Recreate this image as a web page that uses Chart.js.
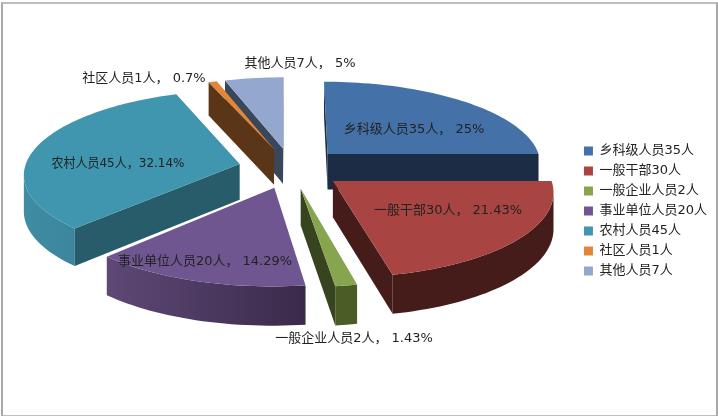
<!DOCTYPE html>
<html>
<head>
<meta charset="utf-8">
<style>
  html, body { margin: 0; padding: 0; background: #fff; }
  #wrap { position: relative; width: 718px; height: 416px; overflow: hidden; }
  #frame { position: absolute; left: 1px; top: 2px; width: 713px; height: 411px; border: 2px solid #a8a8a8; border-top-color: #bdbdbd; border-bottom-color: #bdbdbd; }
  canvas { position: absolute; left: 0; top: 0; }
</style>
<script src="https://cdn.jsdelivr.net/npm/chart.js@4"></script>
</head>
<body>
<div id="wrap">
  <div id="frame"></div>
  <canvas id="pie" width="718" height="416"></canvas>
</div>
<script>
const categories = ["乡科级人员35人", "一般干部30人", "一般企业人员2人", "事业单位人员20人", "农村人员45人", "社区人员1人", "其他人员7人"];
const values = [35, 30, 2, 20, 45, 1, 7];
const percents = ["25%", "21.43%", "1.43%", "14.29%", "32.14%", "0.7%", "5%"];
const separators = ["， ", "， ", "， ", "， ", "，", "， ", "， "];

const topColors = ["#4472a8", "#a84442", "#87a44e", "#6f5690", "#3f96ae", "#e0873a", "#94a8cf"];
const wallColors = ["#1b2c44", "#451c1a", "#37441f", "#3b2a4a", "#285c6b", "#5a3517", "#3a475a"];
const arcLeft = ["#1b2c44", "#451c1a", "#4b5d27", "#5e4876", "#3f8ca3", "#5a3517", "#3a475a"];
const arcRight = ["#1b2c44", "#451c1a", "#4b5d27", "#3a2a4a", "#2f7285", "#5a3517", "#3a475a"];

// where the data labels sit, centre of the text, and how wide they may get
const labelSpots = [[414, 130], [448, 211], [354, 339], [205, 262], [118, 164], [144, 79], [300, 64]];
const labelWidths = [142, 149, 163, 177, 133, 126, 114];

const view = { cx: 291, cy: 168, rx: 215, ry: 83, depth: 36, explode: 0.245, persp: 0.11 };

// flat pie coordinates (radius 1) to the tilted picture
function project(x, y) {
  const k = 1 / (1 - view.persp * y);
  return { x: view.cx + view.rx * x * k, y: view.cy + view.ry * y * k, d: view.depth * Math.pow(k, 0.6) };
}

function sliceOutline(arc) {
  const mid = (arc.startAngle + arc.endAngle) / 2;
  const ox = Math.cos(mid) * view.explode, oy = Math.sin(mid) * view.explode;
  const pts = [project(ox, oy)];
  const steps = Math.max(2, Math.ceil((arc.endAngle - arc.startAngle) / 0.03));
  for (let s = 0; s <= steps; s++) {
    const a = arc.startAngle + (arc.endAngle - arc.startAngle) * s / steps;
    pts.push(project(ox + Math.cos(a), oy + Math.sin(a)));
  }
  return { pts: pts, oy: oy };
}

function fillWall(ctx, run, style) {
  ctx.fillStyle = style;
  ctx.beginPath();
  run.forEach((p, idx) => idx ? ctx.lineTo(p.x, p.y) : ctx.moveTo(p.x, p.y));
  run.slice().reverse().forEach(p => ctx.lineTo(p.x, p.y + p.d));
  ctx.closePath();
  ctx.fill();
}

const tiltedPie = {
  id: "tiltedPie",
  beforeDatasetDraw(chart) {
    const ctx = chart.ctx;
    const meta = chart.getDatasetMeta(0);
    const slices = meta.data.map((arc, i) => Object.assign(sliceOutline(arc), { i: i }));
    slices.sort((a, b) => a.oy - b.oy);

    slices.forEach(sl => {
      const pts = sl.pts, n = pts.length;
      const xs = pts.map(p => p.x);
      const grad = ctx.createLinearGradient(Math.min(...xs), 0, Math.max(...xs), 0);
      grad.addColorStop(0, arcLeft[sl.i]);
      grad.addColorStop(1, arcRight[sl.i]);

      // outer wall, the part of the rim that faces the viewer
      let run = [];
      for (let e = 1; e < n - 1; e++) {
        if (pts[e + 1].x < pts[e].x) {
          if (!run.length) run.push(pts[e]);
          run.push(pts[e + 1]);
        }
      }
      if (run.length) fillWall(ctx, run, grad);

      // cut faces
      if (pts[1].x < pts[0].x) fillWall(ctx, [pts[0], pts[1]], wallColors[sl.i]);
      if (pts[0].x < pts[n - 1].x) fillWall(ctx, [pts[n - 1], pts[0]], wallColors[sl.i]);

      ctx.fillStyle = topColors[sl.i];
      ctx.beginPath();
      pts.forEach((p, idx) => idx ? ctx.lineTo(p.x, p.y) : ctx.moveTo(p.x, p.y));
      ctx.closePath();
      ctx.fill();
    });
    return false;
  },
  afterDatasetsDraw(chart) {
    const ctx = chart.ctx;
    ctx.save();
    ctx.font = "13px 'DejaVu Sans', 'Noto Sans CJK SC'";
    ctx.fillStyle = "#222";
    ctx.textAlign = "center";
    ctx.textBaseline = "middle";
    categories.forEach((c, i) => {
      ctx.fillText(c + separators[i] + percents[i], labelSpots[i][0], labelSpots[i][1], labelWidths[i]);
    });
    ctx.restore();
  }
};

new Chart(document.getElementById("pie"), {
  type: "pie",
  plugins: [tiltedPie],
  data: {
    labels: categories,
    datasets: [{ data: values, backgroundColor: topColors, borderWidth: 0 }]
  },
  options: {
    responsive: false,
    animation: false,
    devicePixelRatio: 1,
    layout: { padding: { right: 1, top: 6 } },
    plugins: {
      tooltip: { enabled: false },
      legend: {
        position: "right",
        labels: {
          boxWidth: 9,
          boxHeight: 9,
          padding: 7,
          color: "#222",
          font: { family: "'DejaVu Sans', 'Noto Sans CJK SC'", size: 13 }
        }
      }
    }
  }
});
</script>
</body>
</html>
